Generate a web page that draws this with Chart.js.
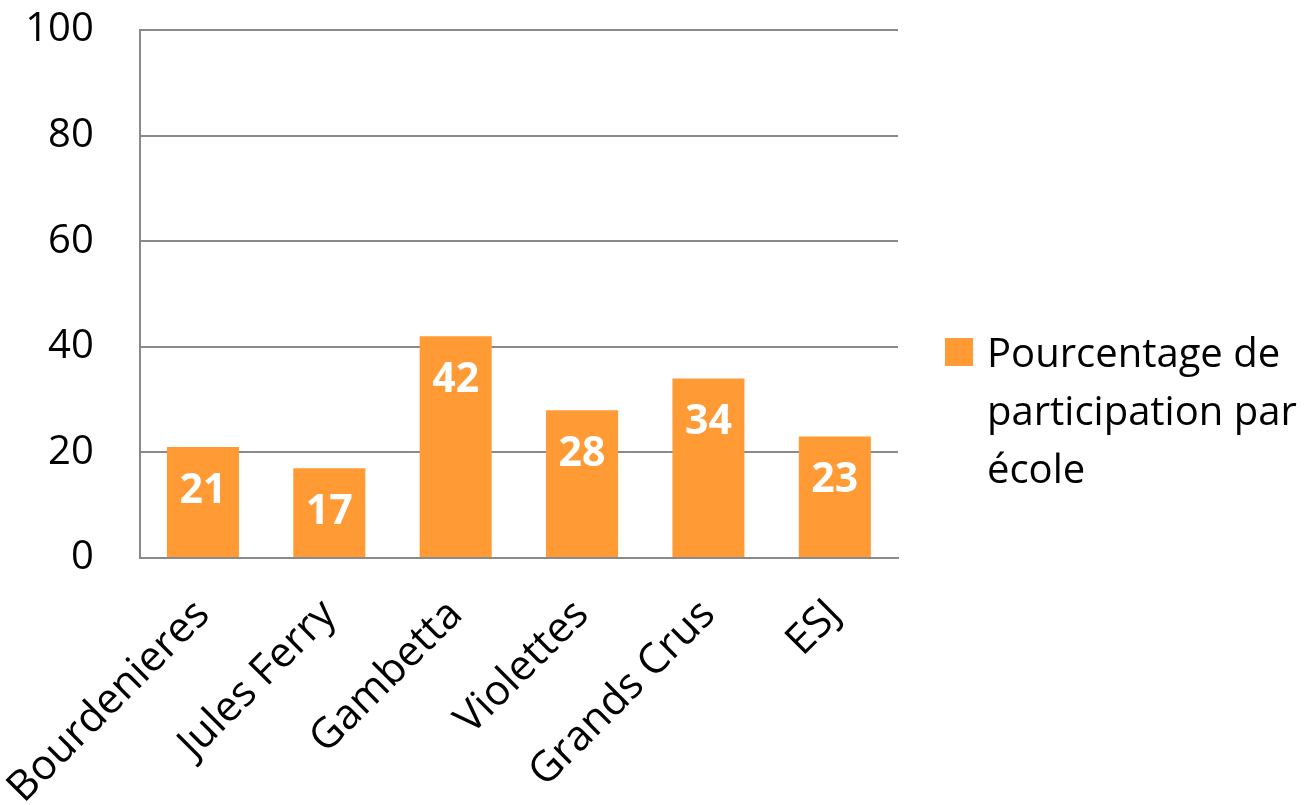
<!DOCTYPE html>
<html>
<head>
<meta charset="utf-8">
<script src="https://cdn.jsdelivr.net/npm/chart.js@4/dist/chart.umd.min.js"></script>
<style>
    html, body { margin: 0; padding: 0; background: #ffffff; }
    #wrap { position: relative; width: 1316px; height: 805px; }
    #legend {
        position: absolute; left: 945px; top: 323px;
        font-family: "Open Sans", sans-serif; font-size: 40px; line-height: 58px; color: #000;
    }
    #legend .box { position: absolute; left: 0; top: 15px; width: 28px; height: 28px; background: #FF9A35; }
    #legend .txt { position: absolute; left: 42px; top: 0; white-space: nowrap; }
</style>
</head>
<body>
<div id="wrap">
    <canvas id="participationChart" width="1316" height="805"></canvas>
    <div id="legend">
        <div class="box"></div>
        <div class="txt">Pourcentage de<br>participation par<br>école</div>
    </div>
</div>
<script>
// données
const ecoles = ['Bourdenieres', 'Jules Ferry', 'Gambetta', 'Violettes', 'Grands Crus', 'ESJ'];
const pourcentages = [21, 17, 42, 28, 34, 23];
const yTicks = [0, 20, 40, 60, 80, 100];

const barColor = '#FF9A35';
const gridColor = '#8a8a8a';
const fontFamily = '"Open Sans", sans-serif';

// étiquettes blanches dans les barres
const valueLabels = {
    id: 'valueLabels',
    afterDatasetsDraw(chart) {
        const ctx = chart.ctx;
        const meta = chart.getDatasetMeta(0);
        ctx.save();
        ctx.fillStyle = '#ffffff';
        ctx.font = 'bold 41px ' + fontFamily;
        ctx.textAlign = 'center';
        ctx.textBaseline = 'middle';
        meta.data.forEach((bar, i) => {
            ctx.fillText(String(pourcentages[i]), bar.x, bar.y + 44);
        });
        ctx.restore();
    }
};

new Chart(document.getElementById('participationChart'), {
    type: 'bar',
    data: {
        labels: ecoles,
        datasets: [{
            label: 'Pourcentage de participation par école',
            data: pourcentages,
            backgroundColor: barColor,
            borderWidth: 0,
            categoryPercentage: 1,
            barPercentage: 0.57
        }]
    },
    options: {
        responsive: false,
        animation: false,
        layout: {
            padding: { left: 0, top: 30, right: 418, bottom: 0 }
        },
        plugins: {
            legend: { display: false },
            tooltip: { enabled: false }
        },
        scales: {
            x: {
                // grille invisible, seulement pour décaler les libellés
                grid: { display: true, color: 'rgba(0,0,0,0)', drawTicks: true, tickLength: 28, tickColor: 'rgba(0,0,0,0)' },
                border: { display: true, color: gridColor, width: 2 },
                ticks: {
                    color: '#000',
                    font: { family: fontFamily, size: 42 },
                    minRotation: 45,
                    maxRotation: 45,
                    padding: 4
                },
                afterFit(scale) { scale.height = 247; }
            },
            y: {
                min: 0,
                max: 100,
                grid: { color: gridColor, lineWidth: 2, drawTicks: true, tickLength: 44, tickColor: 'rgba(0,0,0,0)' },
                border: { display: true, color: gridColor, width: 2 },
                afterBuildTicks(scale) { scale.ticks = yTicks.map(v => ({ value: v })); },
                ticks: {
                    color: '#000',
                    font: { family: fontFamily, size: 40 },
                    padding: 2
                },
                afterFit(scale) { scale.width = 136; }
            }
        }
    },
    plugins: [valueLabels]
});
</script>
</body>
</html>
